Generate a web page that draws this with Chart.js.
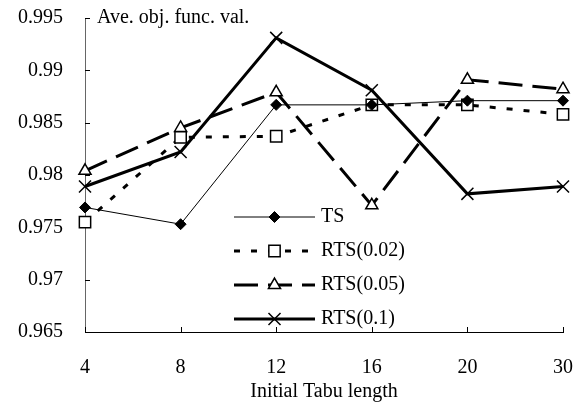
<!DOCTYPE html>
<html>
<head>
<meta charset="utf-8">
<script src="https://cdn.jsdelivr.net/npm/chart.js@4/dist/chart.umd.min.js"></script>
<style>
  html, body { margin: 0; padding: 0; background: #fff; }
  #wrap { width: 581px; height: 404px; position: relative; }
</style>
</head>
<body>
<div id="wrap"><canvas id="chart"></canvas></div>
<script>
// Data
const tabuLengths = ['4', '8', '12', '16', '20', '30'];
const ts = [0.9769, 0.9753, 0.9867, 0.9867, 0.9871, 0.9871];
const rts002 = [0.9755, 0.9836, 0.9837, 0.9867, 0.9867, 0.9858];
const rts005 = [0.9804, 0.9845, 0.9879, 0.9771, 0.9891, 0.9882];
const rts01 = [0.9789, 0.9822, 0.9931, 0.9881, 0.9782, 0.9789];
const yTicks = [0.965, 0.97, 0.975, 0.98, 0.985, 0.99, 0.995];

const FONT = '"Liberation Serif", "Times New Roman", serif';
const FSIZE = 20;

// Inward tick marks, y-axis caption and the legend box
const decorPlugin = {
  id: 'decor',
  afterDraw(chart) {
    const ctx = chart.ctx;
    const xs = chart.scales.x;
    const ys = chart.scales.y;
    const area = chart.chartArea;
    ctx.save();
    ctx.strokeStyle = '#000';
    ctx.lineWidth = 1;
    ctx.beginPath();
    yTicks.forEach(v => {
      const y = Math.round(ys.getPixelForValue(v)) + 0.5;
      ctx.moveTo(area.left, y);
      ctx.lineTo(area.left + 5, y);
    });
    tabuLengths.forEach((t, i) => {
      const x = Math.round(xs.getPixelForValue(i)) + 0.5;
      ctx.moveTo(x, area.bottom);
      ctx.lineTo(x, area.bottom - 5);
    });
    ctx.stroke();

    ctx.fillStyle = '#000';
    ctx.font = FSIZE + 'px ' + FONT;
    ctx.textBaseline = 'middle';
    ctx.textAlign = 'left';
    ctx.fillText('Ave. obj. func. val.', area.left + 12, area.top);

    // legend
    const x0 = 234, x1 = 315;
    chart.data.datasets.forEach((ds, i) => {
      const y = 217 + i * 34;
      ctx.save();
      ctx.strokeStyle = '#000';
      ctx.lineWidth = ds.borderWidth;
      ctx.setLineDash(ds.borderDash || []);
      ctx.beginPath();
      ctx.moveTo(x0, y);
      ctx.lineTo(x1, y);
      ctx.stroke();
      ctx.restore();
      ctx.save();
      ctx.fillStyle = ds.pointBackgroundColor;
      ctx.strokeStyle = ds.pointBorderColor;
      ctx.lineWidth = ds.pointBorderWidth;
      Chart.helpers.drawPoint(ctx, {
        pointStyle: ds.pointStyle,
        radius: ds.pointRadius,
        borderWidth: ds.pointBorderWidth,
        rotation: 0
      }, (x0 + x1) / 2, y);
      ctx.restore();
      ctx.fillStyle = '#000';
      ctx.fillText(ds.label, x1 + 6, y);
    });
    ctx.restore();
  }
};

new Chart(document.getElementById('chart'), {
  type: 'line',
  data: {
    labels: tabuLengths,
    datasets: [
      {
        label: 'TS', data: ts, borderColor: '#000', backgroundColor: '#000',
        borderWidth: 1, pointStyle: 'rectRot', pointRadius: 5.5,
        pointBorderWidth: 1, pointBackgroundColor: '#000', pointBorderColor: '#000'
      },
      {
        label: 'RTS(0.02)', data: rts002, borderColor: '#000', backgroundColor: '#fff',
        borderWidth: 3, borderDash: [6, 11], pointStyle: 'rect', pointRadius: 8,
        pointBorderWidth: 1.5, pointBackgroundColor: '#fff', pointBorderColor: '#000'
      },
      {
        label: 'RTS(0.05)', data: rts005, borderColor: '#000', backgroundColor: '#fff',
        borderWidth: 3, borderDash: [24, 10], pointStyle: 'triangle', pointRadius: 7,
        pointBorderWidth: 1.5, pointBackgroundColor: '#fff', pointBorderColor: '#000'
      },
      {
        label: 'RTS(0.1)', data: rts01, borderColor: '#000', backgroundColor: '#000',
        borderWidth: 3, pointStyle: 'crossRot', pointRadius: 8.5,
        pointBorderWidth: 1.5, pointBackgroundColor: '#000', pointBorderColor: '#000'
      }
    ]
  },
  options: {
    responsive: true,
    maintainAspectRatio: false,
    animation: false,
    layout: { autoPadding: false, padding: 0 },
    plugins: { legend: { display: false }, tooltip: { enabled: false } },
    elements: { line: { tension: 0 } },
    scales: {
      x: {
        offset: false,
        grid: { display: false, drawTicks: false },
        border: { color: '#000', width: 1 },
        ticks: { color: '#000', font: { family: FONT, size: FSIZE }, padding: 24, maxRotation: 0 },
        title: { display: true, text: 'Initial Tabu length', color: '#000', font: { family: FONT, size: FSIZE }, padding: { top: 0, bottom: 0 } },
        afterFit(scale) {
          scale.height = 72;
          scale.paddingLeft = 0;
          scale.paddingRight = 18;
        }
      },
      y: {
        min: 0.965, max: 0.995,
        afterBuildTicks(scale) { scale.ticks = yTicks.map(v => ({ value: v })); },
        grid: { display: false, drawTicks: false },
        border: { color: '#666', width: 1 },
        ticks: {
          color: '#000', font: { family: FONT, size: FSIZE }, padding: 22,
          callback: v => String(Number(v.toFixed(3)))
        },
        afterFit(scale) {
          scale.width = 85;
          scale.paddingTop = 18;
          scale.paddingBottom = 0;
        }
      }
    }
  },
  plugins: [decorPlugin]
});
</script>
</body>
</html>
